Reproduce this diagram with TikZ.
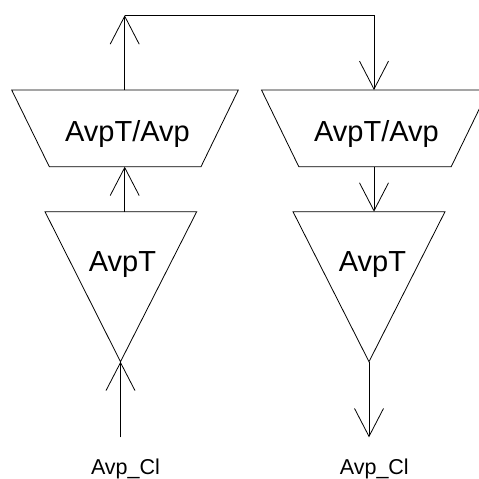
\documentclass[tikz,border=0pt]{standalone}
\usepackage{fontspec}
\setmainfont{Liberation Sans}
\usetikzlibrary{arrows.meta}
\begin{document}
\begin{tikzpicture}[x=1pt,y=-1pt,
  shapeline/.style={draw=black,line width=0.8pt},
  conn/.style={draw=black,line width=0.8pt,-{Straight Barb[length=28pt,width=29pt,line width=0.8pt]}},
  plain/.style={draw=black,line width=0.8pt},
  bigtxt/.style={font=\fontsize{29}{29}\selectfont,anchor=base,inner sep=0pt},
  smalltxt/.style={font=\fontsize{21.5}{21.5}\selectfont,anchor=base,inner sep=0pt}]
\useasboundingbox (0,0) rectangle (479,479);
\begin{scope}
\clip (0,0) rectangle (479,479);
% trapezoids
\draw[shapeline] (11.7,90) -- (238.3,90) -- (201,166.7) -- (49.3,166.7) -- cycle;
\draw[shapeline] (261.5,90) -- (488.5,90) -- (451.2,166.7) -- (298.8,166.7) -- cycle;
% triangles
\draw[shapeline] (45,211.7) -- (196.7,211.7) -- (120.5,361.7) -- cycle;
\draw[shapeline] (293,211.7) -- (445,211.7) -- (369,361.7) -- cycle;
\end{scope}
% anchor coordinates
\coordinate (lttop) at (124.7,90);
\coordinate (ltbot) at (124.7,166.7);
\coordinate (rttop) at (374,90);
\coordinate (rtbot) at (374,166.7);
\coordinate (ltri) at (124.7,211.7);
\coordinate (rtri) at (374,211.7);
\coordinate (lapex) at (120.5,361.7);
\coordinate (rapex) at (369,361.7);
\coordinate (corner) at (124.7,15.3);
\coordinate (rcorner) at (374,15.3);
\coordinate (lin) at (120.5,437.3);
\coordinate (rout) at (369,437.3);
% texts
\node[bigtxt] (lt) at (127.5,141.7) {AvpT/Avp};
\node[bigtxt] (rt) at (376.5,141.7) {AvpT/Avp};
\node[bigtxt] (la) at (122.5,271.7) {AvpT};
\node[bigtxt] (ra) at (372.5,271.7) {AvpT};
\node[smalltxt] (lc) at (125.5,474.5) {Avp\_Cl};
\node[smalltxt] (rc) at (374.3,474.5) {Avp\_Cl};
% connectors
\draw[conn] (lttop) -- (corner);
\draw[conn] (corner) -- (rcorner) -- (rttop);
\draw[conn] (ltri) -- (ltbot);
\draw[conn] (rtbot) -- (rtri);
\draw[conn] (lin) -- (lapex);
\draw[conn] (rapex) -- (rout);
\end{tikzpicture}
\end{document}
